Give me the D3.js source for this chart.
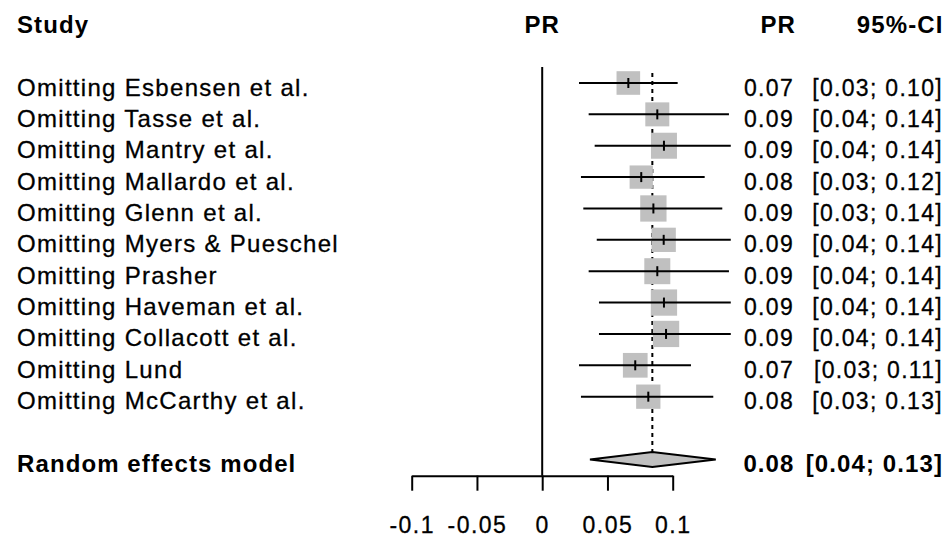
<!DOCTYPE html>
<html>
<head>
<meta charset="utf-8">
<script src="https://cdn.jsdelivr.net/npm/d3@7"></script>
<style>
  html, body { margin: 0; padding: 0; background: #fff; }
  svg { display: block; }
  text { font-family: "Liberation Sans", Arial, sans-serif; fill: #000; }
  .label { font-size: 24px; letter-spacing: 1.3px; stroke: #000; stroke-width: 0.3px; }
  .num { font-size: 23px; letter-spacing: 1.3px; stroke: #000; stroke-width: 0.3px; }
  .bold { font-size: 24px; font-weight: bold; letter-spacing: 1.1px; }
</style>
</head>
<body>
<svg id="chart" width="951" height="540"></svg>
<script>
// Leave-one-out sensitivity analysis: pooled prevalence ratio with each study omitted
const studies = [
  "Omitting Esbensen et al.",
  "Omitting Tasse et al.",
  "Omitting Mantry et al.",
  "Omitting Mallardo et al.",
  "Omitting Glenn et al.",
  "Omitting Myers & Pueschel",
  "Omitting Prasher",
  "Omitting Haveman et al.",
  "Omitting Collacott et al.",
  "Omitting Lund",
  "Omitting McCarthy et al."
];
const estimate = [0.0660, 0.0882, 0.0933, 0.0759, 0.0852, 0.0931, 0.0882, 0.0933, 0.0949, 0.0713, 0.0813];
const lowerCI  = [0.0282, 0.0356, 0.0402, 0.0297, 0.0315, 0.0418, 0.0356, 0.0435, 0.0435, 0.0282, 0.0297];
const upperCI  = [0.1038, 0.1431, 0.1445, 0.1245, 0.1380, 0.1445, 0.1431, 0.1445, 0.1445, 0.1140, 0.1311];
const weight   = [80.5, 83.2, 97.7, 78.5, 100, 85.3, 97.7, 100, 100, 88.2, 85.3];

const pooledLabel = "Random effects model";
const pooled = { est: 0.0844, lower: 0.0366, upper: 0.1330 };

const axisTicks = [-0.1, -0.05, 0, 0.05, 0.1];
const headers = { study: "Study", plot: "PR", est: "PR", ci: "95%-CI" };

const svg = d3.select("#chart");
const fmt = d3.format(".2f");

// horizontal effect scale and vertical row scale
const x = d3.scaleLinear().domain([-0.1, 0.1]).range([411.7, 672.7]);
const y = d3.scaleLinear().domain([0, 12]).range([83, 459.4]);
const side = d3.scaleSqrt().domain([0, 100]).range([0, 26.3]);
const pooledRow = studies.length + 1;
const textDy = 12.5;

// column headers
const hy = y(-2) + 12.3;
svg.append("text").attr("class", "bold").attr("x", 17).attr("y", hy).text(headers.study);
svg.append("text").attr("class", "bold").attr("x", x(0)).attr("y", hy).attr("text-anchor", "middle").text(headers.plot);
svg.append("text").attr("class", "bold").attr("x", 796).attr("y", hy).attr("text-anchor", "end").text(headers.est);
svg.append("text").attr("class", "bold").attr("x", 943.5).attr("y", hy).attr("text-anchor", "end").text(headers.ci);

// line of no effect
svg.append("line")
  .attr("x1", x(0)).attr("x2", x(0))
  .attr("y1", y(0) - 16).attr("y2", y(pooledRow) + 16.3)
  .attr("stroke", "#000").attr("stroke-width", 2);

// pooled estimate reference line
svg.append("line")
  .attr("x1", x(pooled.est)).attr("x2", x(pooled.est))
  .attr("y1", y(0) - 10).attr("y2", y(pooledRow) - 7.5)
  .attr("stroke", "#000").attr("stroke-width", 2)
  .attr("stroke-dasharray", "4,4");

// study rows
const rows = svg.append("g").selectAll("g")
  .data(studies.map((s, i) => ({ s, i, est: estimate[i], lo: lowerCI[i], hi: upperCI[i], w: weight[i] })))
  .join("g");

rows.append("rect")
  .attr("x", d => x(d.est) - side(d.w) / 2)
  .attr("y", d => y(d.i) - side(d.w) / 2)
  .attr("width", d => side(d.w))
  .attr("height", d => side(d.w))
  .attr("fill", "#c0c0c0");

rows.append("line")
  .attr("x1", d => x(d.lo)).attr("x2", d => x(d.hi))
  .attr("y1", d => y(d.i)).attr("y2", d => y(d.i))
  .attr("stroke", "#000").attr("stroke-width", 2);

rows.append("line")
  .attr("x1", d => x(d.est)).attr("x2", d => x(d.est))
  .attr("y1", d => y(d.i) - 5).attr("y2", d => y(d.i) + 5)
  .attr("stroke", "#000").attr("stroke-width", 2);

rows.append("text").attr("class", "label")
  .attr("x", 17).attr("y", d => y(d.i) + textDy)
  .text(d => d.s);

rows.append("text").attr("class", "num")
  .attr("x", 794).attr("y", d => y(d.i) + textDy).attr("text-anchor", "end")
  .text(d => fmt(d.est));

rows.append("text").attr("class", "num")
  .attr("x", 943).attr("y", d => y(d.i) + textDy).attr("text-anchor", "end")
  .text(d => `[${fmt(d.lo)}; ${fmt(d.hi)}]`);

// pooled diamond
const py = y(pooledRow);
svg.append("polygon")
  .attr("points", [
    [x(pooled.lower), py], [x(pooled.est), py - 7.5],
    [x(pooled.upper), py], [x(pooled.est), py + 7.5]
  ].map(p => p.join(",")).join(" "))
  .attr("fill", "#c0c0c0").attr("stroke", "#000").attr("stroke-width", 2);

svg.append("text").attr("class", "bold").attr("x", 17).attr("y", py + textDy).text(pooledLabel);
svg.append("text").attr("class", "bold").attr("x", 794.5).attr("y", py + textDy).attr("text-anchor", "end").text(fmt(pooled.est));
svg.append("text").attr("class", "bold").attr("x", 943).attr("y", py + textDy).attr("text-anchor", "end")
  .text(`[${fmt(pooled.lower)}; ${fmt(pooled.upper)}]`);

// x axis
const axis = d3.axisBottom(x)
  .tickValues(axisTicks)
  .tickFormat(d => String(d))
  .tickSize(15)
  .tickSizeOuter(0)
  .tickPadding(26);

const gx = svg.append("g")
  .attr("transform", `translate(0,${py + 16.3})`)
  .call(axis);
gx.select(".domain").attr("stroke-width", 2);
gx.selectAll(".tick line").attr("stroke-width", 2);
gx.selectAll(".tick text")
  .attr("class", "num")
  .attr("font-size", null).attr("font-family", null)
  .style("letter-spacing", "1.5px");
</script>
</body>
</html>
